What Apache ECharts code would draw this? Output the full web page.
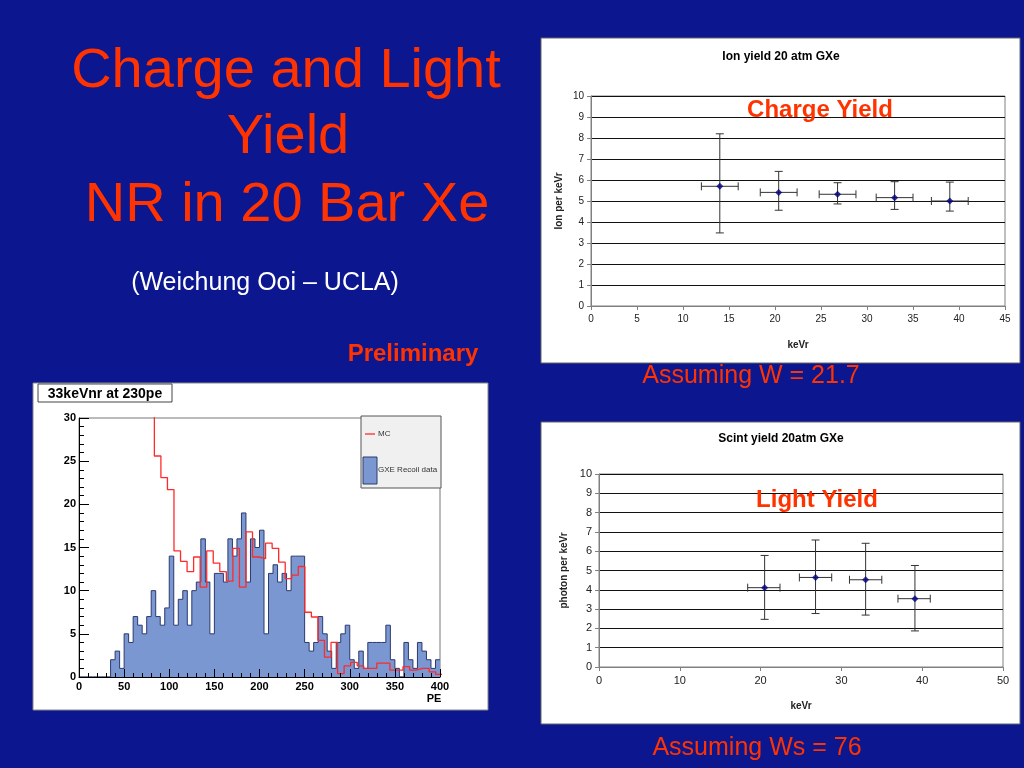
<!DOCTYPE html>
<html><head><meta charset="utf-8">
<script src="https://cdn.jsdelivr.net/npm/echarts@6/dist/echarts.min.js"></script>
<style>html,body{margin:0;padding:0;background:#0b168f;}#c{width:1024px;height:768px;}</style>
</head><body><div id="c"></div>
<script>
// ---- Histogram (PE spectrum) ----
const histBinStart = 0;
const histBinWidth = 5;
const dataCounts = [0,0,0,0,0,0,0, 2,3,1,5,4,7,6,5,7,10,7,6,8,14,6,9,10,6,10,11,16,11,5,12,12,11,16,14,16,19,11,16,15,17,5,12,13,11,12,10,14,14,14,4,3,4,7,5,3,1,4,5,6,2,1,3,1,4,4,4,4,6,2,1,0,4,2,1,4,3,2,1,2];
const mcBinStart = 76.25;
const mcBinWidth = 7.25;
const mcCounts = [40,25.6,23.1,21.7,14.6,13.4,12.2,13.9,10.4,14.6,13.2,12.2,11.1,14.9,10.4,16.8,13.9,13.7,15.5,14.9,13.3,11.4,11.8,12.8,7.5,6.95,4.25,2.3,4.0,0.4,1.3,1.7,1.3,1.0,1.0,1.6,1.6,0.8,0.8,1.2,0.8,1.0,1.0,0.6,0.3];
const histXTicks = [0,50,100,150,200,250,300,350,400];

// ---- Ion yield ----
const ionX   = [14, 20.4, 26.8, 33, 39];
const ionY   = [5.7, 5.41, 5.32, 5.16, 5.0];
const ionXLo = [12, 18.4, 24.8, 31, 37];
const ionXHi = [16, 22.4, 28.8, 35, 41];
const ionYLo = [3.48, 4.56, 4.86, 4.6, 4.52];
const ionYHi = [8.2, 6.41, 5.87, 5.92, 5.9];

// ---- Scint yield ----
const scX   = [20.5, 26.8, 33, 39.1];
const scY   = [4.11, 4.64, 4.52, 3.54];
const scXLo = [18.4, 24.8, 31, 37];
const scXHi = [22.4, 28.8, 35, 41];
const scYLo = [2.47, 2.77, 2.69, 1.87];
const scYHi = [5.78, 6.58, 6.41, 5.26];

const FF = '"Liberation Sans", Arial, sans-serif';
const RED = '#ff3300';

const dataLine = dataCounts.map((v, i) => [histBinStart + i * histBinWidth, v]);
dataLine.push([histBinStart + dataCounts.length * histBinWidth, dataCounts[dataCounts.length - 1]]);
const mcLine = mcCounts.map((v, i) => [mcBinStart + i * mcBinWidth, v]);
mcLine.push([mcBinStart + mcCounts.length * mcBinWidth, mcCounts[mcCounts.length - 1]]);

function errRows(x, y, xl, xh, yl, yh) { return x.map((v, i) => [v, y[i], xl[i], xh[i], yl[i], yh[i]]); }
function errRender(params, api) {
  const x = api.value(0), y = api.value(1);
  const pL = api.coord([api.value(2), y]), pR = api.coord([api.value(3), y]);
  const pB = api.coord([x, api.value(4)]), pT = api.coord([x, api.value(5)]);
  const c = 4, st = { stroke: '#333', lineWidth: 1 };
  const ln = (a, b, c2, d) => ({ type: 'line', shape: { x1: a, y1: b, x2: c2, y2: d }, style: st });
  return { type: 'group', children: [
    ln(pL[0], pL[1], pR[0], pR[1]), ln(pL[0], pL[1] - c, pL[0], pL[1] + c), ln(pR[0], pR[1] - c, pR[0], pR[1] + c),
    ln(pB[0], pB[1], pT[0], pT[1]), ln(pB[0] - c, pB[1], pB[0] + c, pB[1]), ln(pT[0] - c, pT[1], pT[0] + c, pT[1])
  ]};
}

function txt(t, x, y, size, color, weight, align, rot) {
  return { type: 'text', z: 100, rotation: rot || 0, x: x, y: y,
    style: { text: t, x: 0, y: 0, fill: color, font: (weight || 'normal') + ' ' + size + 'px ' + FF,
      textAlign: align || 'center', align: align || 'center', textVerticalAlign: 'middle', verticalAlign: 'middle' } };
}
function box(x, y, w, h, fill, stroke) {
  return { type: 'rect', z: -100, shape: { x: x, y: y, width: w, height: h }, style: { fill: fill, stroke: stroke || '#555', lineWidth: 1 } };
}

const excelAxisX = (grid, max, interval, fs) => ({
  type: 'value', gridIndex: grid, min: 0, max: max, interval: interval,
  axisLine: { show: true, lineStyle: { color: '#808080' } },
  axisTick: { show: true, inside: false, length: 4, lineStyle: { color: '#808080' } },
  axisLabel: { fontSize: fs, color: '#222', fontFamily: FF, margin: 8 },
  splitLine: { show: false },
  name: 'keVr', nameLocation: 'middle', nameGap: 34,
  nameTextStyle: { fontWeight: 'bold', fontSize: 10, color: '#222', fontFamily: FF }
});
const excelAxisY = (grid, name, gap, fs) => ({
  type: 'value', gridIndex: grid, min: 0, max: 10, interval: 1,
  axisLine: { show: true, lineStyle: { color: '#808080' } },
  axisTick: { show: true, inside: false, length: 4, lineStyle: { color: '#808080' } },
  axisLabel: { fontSize: fs, color: '#222', fontFamily: FF, margin: 7 },
  splitLine: { show: true, lineStyle: { color: '#111', width: 1 } },
  name: name, nameLocation: 'middle', nameGap: gap,
  nameTextStyle: { fontWeight: 'bold', fontSize: 10, color: '#222', fontFamily: FF }
});

const chart = echarts.init(document.getElementById('c'), null, { renderer: 'canvas' });
chart.setOption({
  backgroundColor: '#0b168f',
  animation: false,
  grid: [
    { left: 79, top: 418, width: 361, height: 259, show: true, backgroundColor: '#fff', borderColor: '#777', borderWidth: 1 },
    { left: 591, top: 96, width: 414, height: 210, show: true, backgroundColor: '#fff', borderColor: '#808080', borderWidth: 1 },
    { left: 599, top: 474, width: 404, height: 193, show: true, backgroundColor: '#fff', borderColor: '#808080', borderWidth: 1 }
  ],
  xAxis: [
    { type: 'value', gridIndex: 0, z: 10, min: histXTicks[0], max: histXTicks[histXTicks.length - 1], interval: histXTicks[1] - histXTicks[0],
      axisLine: { show: true, onZero: false, lineStyle: { color: '#000' } },
      axisTick: { show: true, inside: true, length: 8, lineStyle: { color: '#000' } },
      minorTick: { show: true, splitNumber: 5, length: 4, lineStyle: { color: '#000' } },
      axisLabel: { fontSize: 11, fontWeight: 'bold', color: '#000', fontFamily: FF, margin: 4 },
      splitLine: { show: false } },
    excelAxisX(1, 45, 5, 10),
    excelAxisX(2, 50, 10, 11)
  ],
  yAxis: [
    { type: 'value', gridIndex: 0, z: 10, min: 0, max: 30, interval: 5,
      axisLine: { show: true, lineStyle: { color: '#000' } },
      axisTick: { show: true, inside: true, length: 10, lineStyle: { color: '#000' } },
      minorTick: { show: true, splitNumber: 5, length: 5, lineStyle: { color: '#000' } },
      axisLabel: { fontSize: 11, fontWeight: 'bold', color: '#000', fontFamily: FF, margin: 3 },
      splitLine: { show: false } },
    excelAxisY(1, 'Ion per keVr', 27, 10),
    excelAxisY(2, 'photon per keVr', 30, 11)
  ],
  series: [
    { type: 'line', xAxisIndex: 0, yAxisIndex: 0, data: dataLine, step: 'end', symbol: 'none', z: 2,
      lineStyle: { color: '#2b3a6e', width: 1 }, areaStyle: { color: '#7b97d2', opacity: 1 } },
    { type: 'line', xAxisIndex: 0, yAxisIndex: 0, data: mcLine, step: 'end', symbol: 'none', z: 3, clip: true,
      lineStyle: { color: '#ff2a2a', width: 1.3 } },
    { type: 'custom', xAxisIndex: 1, yAxisIndex: 1, data: errRows(ionX, ionY, ionXLo, ionXHi, ionYLo, ionYHi),
      renderItem: errRender, encode: { x: 0, y: 1 }, z: 3 },
    { type: 'scatter', xAxisIndex: 1, yAxisIndex: 1, data: ionX.map((v, i) => [v, ionY[i]]), symbol: 'diamond', symbolSize: 7,
      itemStyle: { color: '#000080' }, z: 4 },
    { type: 'custom', xAxisIndex: 2, yAxisIndex: 2, data: errRows(scX, scY, scXLo, scXHi, scYLo, scYHi),
      renderItem: errRender, encode: { x: 0, y: 1 }, z: 3 },
    { type: 'scatter', xAxisIndex: 2, yAxisIndex: 2, data: scX.map((v, i) => [v, scY[i]]), symbol: 'diamond', symbolSize: 7,
      itemStyle: { color: '#000080' }, z: 4 }
  ],
  graphic: { elements: [
    box(33, 383, 455, 327, '#fff', '#888'),
    box(541, 38, 479, 325, '#fff', '#666'),
    box(541, 422, 479, 302, '#fff', '#666'),
    { type: 'rect', z: 100, shape: { x: 38, y: 384, width: 134, height: 18 }, style: { fill: '#fff', stroke: '#444', lineWidth: 1 } },
    txt('33keVnr at 230pe', 105, 394, 14, '#000', 'bold'),
    { type: 'rect', z: 100, shape: { x: 361, y: 416, width: 80, height: 72 }, style: { fill: '#f0f0f0', stroke: '#555', lineWidth: 1 } },
    { type: 'line', z: 101, shape: { x1: 365, y1: 434, x2: 375, y2: 434 }, style: { stroke: '#ff2a2a', lineWidth: 1.3 } },
    txt('MC', 378, 434, 8, '#333', 'normal', 'left'),
    { type: 'rect', z: 101, shape: { x: 363, y: 457, width: 14, height: 27 }, style: { fill: '#7b97d2', stroke: '#2b3a6e', lineWidth: 1 } },
    txt('GXE Recoil data', 378, 470, 8, '#333', 'normal', 'left'),
    txt('PE', 434, 699, 11, '#000', 'bold'),
    txt('Ion yield 20 atm GXe', 781, 57, 12, '#000', 'bold'),
    txt('Scint yield 20atm GXe', 781, 439, 12, '#000', 'bold'),
    txt('Charge Yield', 820, 110, 24, RED, 'bold'),
    txt('Light Yield', 817, 500, 24, RED, 'bold'),
    txt('Charge and Light', 286, 72, 56, RED),
    txt('Yield', 288, 138, 56, RED),
    txt('NR in 20 Bar Xe', 287, 206, 56, RED),
    txt('(Weichung Ooi \u2013 UCLA)', 265, 283, 25, '#fff'),
    txt('Preliminary', 413, 354, 24, RED, 'bold'),
    txt('Assuming W = 21.7', 751, 376, 25, RED),
    txt('Assuming Ws = 76', 757, 748, 25, RED)
  ]}
});
</script></body></html>
